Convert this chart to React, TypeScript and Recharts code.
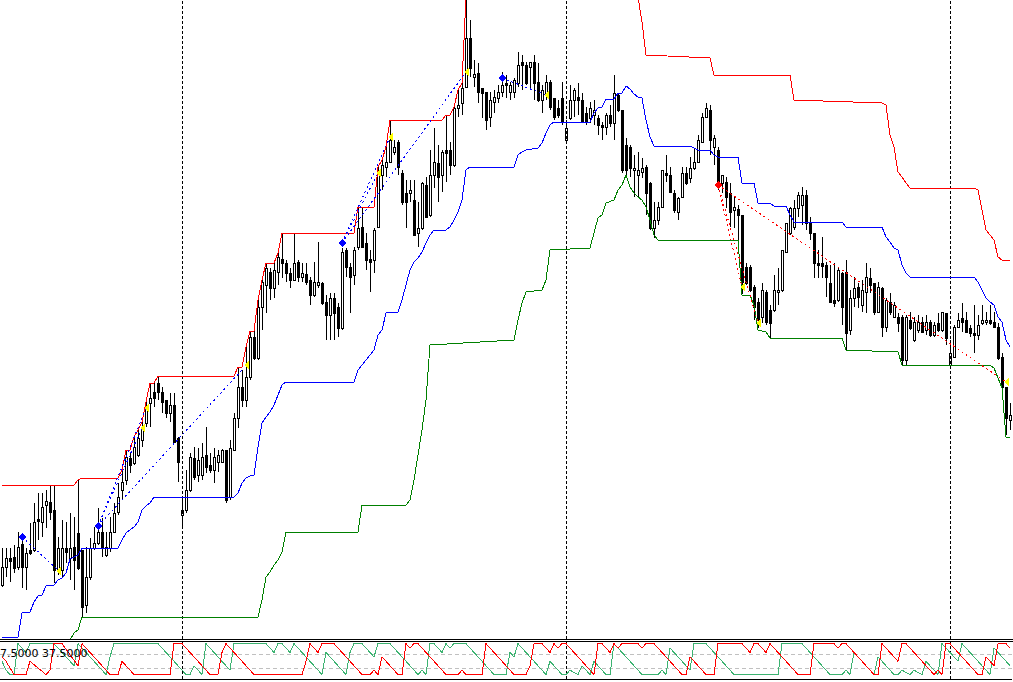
import { ComposedChart, Bar, Line, XAxis, YAxis, ReferenceLine, ReferenceDot } from 'recharts'

// candles, bar index 0..252 (price in points)
const opens = [
  415, 433, 442, 443, 433, 456, 433, 450, 450, 481,
  478, 495, 498, 490, 430, 430, 452, 442, 453, 467,
  450, 395, 423, 452, 457, 468, 445, 452, 468, 488,
  510, 520, 542, 537, 545, 560, 577, 597, 608, 617,
  608, 600, 587, 595, 562, 485, 490, 510, 542, 525,
  525, 545, 535, 530, 538, 538, 550, 503, 550, 582,
  613, 600, 623, 663, 642, 693, 715, 728, 712, 728,
  741, 737, 727, 720, 738, 723, 726, 720, 705, 715,
  717, 698, 685, 702, 693, 672, 750, 733, 725, 753,
  773, 757, 741, 740, 773, 825, 833, 838, 848, 858,
  827, 807, 807, 800, 767, 772, 815, 785, 825, 837,
  825, 850, 850, 835, 892, 897, 913, 962, 923, 927,
  912, 908, 883, 898, 902, 908, 917, 908, 908, 917,
  938, 935, 933, 938, 918, 900, 907, 918, 902, 892,
  902, 860, 882, 900, 903, 900, 887, 882, 885, 882,
  875, 873, 885, 877, 905, 890, 855, 853, 830, 825,
  828, 833, 817, 772, 780, 793, 827, 825, 807, 788,
  803, 827, 822, 832, 838, 858, 883, 890, 853, 850,
  817, 818, 807, 790, 791, 785, 733, 733, 713, 698,
  683, 708, 690, 690, 708, 710, 748, 767, 773, 792,
  795, 805, 778, 767, 737, 737, 735, 717, 700, 700,
  727, 728, 670, 702, 713, 695, 708, 722, 717, 688,
  712, 673, 698, 683, 683, 683, 640, 680, 660, 670,
  678, 670, 678, 665, 677, 670, 687, 635, 643, 673,
  682, 680, 672, 667, 665, 677, 678, 680, 678, 673,
  643, 613, 580,
]
const highs = [
  452, 452, 452, 455, 468, 460, 452, 477, 497, 507,
  507, 510, 515, 515, 463, 480, 478, 487, 483, 520,
  450, 453, 462, 473, 492, 482, 468, 483, 497, 517,
  530, 550, 547, 563, 570, 578, 598, 617, 617, 624,
  613, 600, 607, 607, 563, 503, 530, 547, 553, 552,
  557, 573, 547, 552, 550, 551, 550, 560, 587, 633,
  630, 653, 669, 669, 700, 720, 737, 732, 737, 747,
  767, 740, 732, 767, 740, 737, 737, 723, 738, 758,
  718, 705, 707, 707, 697, 752, 752, 737, 753, 793,
  793, 767, 750, 772, 833, 840, 853, 880, 860, 860,
  830, 820, 820, 820, 798, 818, 823, 850, 872, 855,
  850, 885, 858, 893, 910, 917, 1003, 980, 940, 937,
  912, 908, 908, 910, 915, 928, 925, 918, 922, 948,
  945, 938, 938, 945, 937, 915, 925, 920, 902, 900,
  918, 880, 915, 912, 917, 907, 893, 898, 900, 885,
  878, 887, 895, 925, 907, 890, 862, 855, 845, 848,
  842, 835, 818, 798, 798, 830, 845, 833, 810, 803,
  833, 833, 843, 852, 865, 887, 897, 895, 865, 853,
  825, 823, 817, 803, 795, 785, 737, 735, 715, 702,
  717, 710, 695, 725, 732, 750, 777, 793, 800, 808,
  813, 810, 783, 767, 750, 763, 738, 735, 737, 733,
  728, 740, 710, 723, 717, 720, 737, 732, 717, 718,
  713, 702, 707, 698, 687, 685, 685, 688, 683, 685,
  683, 685, 680, 678, 687, 688, 687, 660, 675, 687,
  697, 688, 675, 695, 685, 695, 688, 695, 688, 677,
  647, 613, 597,
]
const lows = [
  413, 423, 418, 427, 430, 412, 410, 445, 448, 460,
  463, 472, 480, 417, 425, 423, 437, 420, 410, 430,
  383, 387, 420, 450, 455, 443, 443, 448, 467, 485,
  500, 515, 527, 535, 543, 553, 573, 573, 593, 600,
  587, 582, 578, 558, 518, 472, 487, 508, 520, 518,
  520, 527, 527, 517, 528, 537, 497, 500, 550, 572,
  593, 593, 620, 640, 640, 670, 687, 700, 702, 715,
  722, 718, 712, 720, 718, 718, 715, 695, 703, 712,
  695, 660, 660, 660, 663, 670, 723, 687, 715, 750,
  752, 730, 708, 727, 772, 810, 823, 837, 845, 825,
  795, 772, 798, 765, 753, 770, 782, 783, 812, 798,
  808, 818, 825, 833, 883, 885, 912, 923, 913, 897,
  882, 870, 873, 887, 897, 903, 902, 900, 902, 913,
  910, 915, 910, 900, 898, 887, 900, 890, 880, 882,
  875, 857, 880, 883, 885, 877, 875, 877, 875, 865,
  860, 865, 873, 860, 888, 827, 825, 823, 803, 803,
  822, 785, 770, 762, 775, 792, 818, 807, 787, 780,
  802, 815, 817, 830, 837, 857, 882, 845, 835, 810,
  807, 792, 773, 772, 760, 706, 715, 708, 680, 672,
  677, 675, 662, 688, 695, 708, 747, 765, 770, 783,
  775, 770, 760, 722, 722, 722, 703, 697, 693, 698,
  675, 650, 665, 693, 692, 688, 687, 707, 685, 687,
  663, 668, 685, 682, 668, 635, 635, 670, 658, 667,
  667, 665, 663, 663, 668, 668, 655, 635, 643, 672,
  668, 667, 663, 647, 660, 675, 675, 675, 672, 640,
  612, 565, 570,
]
const closes = [
  433, 442, 439, 432, 453, 433, 447, 447, 478, 479,
  493, 499, 488, 430, 452, 452, 448, 452, 440, 432,
  393, 423, 452, 457, 468, 453, 453, 468, 487, 503,
  518, 543, 535, 553, 562, 573, 593, 602, 602, 608,
  598, 587, 595, 558, 538, 490, 510, 543, 523, 540,
  543, 533, 530, 543, 545, 550, 500, 552, 582, 613,
  600, 623, 663, 642, 693, 718, 732, 712, 730, 743,
  737, 727, 720, 737, 723, 727, 718, 705, 718, 718,
  697, 685, 702, 687, 672, 748, 733, 723, 750, 772,
  753, 740, 738, 770, 827, 835, 838, 860, 853, 833,
  798, 798, 810, 765, 772, 817, 783, 825, 838, 823,
  848, 847, 835, 892, 895, 912, 962, 932, 926, 908,
  907, 880, 900, 903, 908, 915, 915, 915, 920, 935,
  935, 917, 938, 917, 900, 910, 918, 893, 883, 885,
  878, 872, 900, 910, 900, 878, 878, 892, 890, 875,
  873, 885, 877, 907, 890, 830, 830, 832, 832, 830,
  832, 807, 772, 780, 793, 830, 825, 808, 790, 802,
  827, 817, 832, 838, 860, 883, 892, 860, 862, 817,
  825, 803, 788, 793, 785, 718, 717, 710, 693, 680,
  710, 678, 677, 710, 710, 750, 777, 792, 792, 805,
  805, 777, 767, 737, 735, 734, 723, 698, 697, 730,
  693, 667, 702, 712, 703, 710, 723, 715, 688, 713,
  673, 700, 688, 695, 677, 640, 683, 672, 678, 678,
  668, 678, 665, 675, 670, 688, 662, 647, 673, 680,
  678, 668, 667, 665, 675, 680, 680, 677, 673, 642,
  613, 582, 585,
]

// channel lines, [bar, price] corners
const upperBand = [
  [0, 515], [1, 515], [18, 515], [19, 520], [20, 522], [29, 522], [30, 530], [31, 550], [32, 550], [33, 563], [34, 570],
  [35, 578], [36, 598], [37, 617], [38, 617], [39, 624], [58, 624], [59, 633], [60, 633], [61, 653], [62, 669],
  [63, 669], [64, 700], [65, 720], [66, 737], [68, 737], [69, 747], [70, 767], [88, 767], [89, 793], [93, 793],
  [94, 833], [95, 840], [96, 853], [97, 880], [110, 880], [111, 885], [112, 885], [113, 893], [114, 910], [115, 917],
  [116, 1003], [159, 1003], [160, 978], [161, 945], [177, 942], [178, 925], [197, 925], [198, 900], [220, 897], [221, 895],
  [222, 865], [223, 853], [224, 828], [225, 823], [226, 817], [227, 812], [243, 812], [244, 810], [245, 790], [246, 770],
  [247, 765], [248, 760], [249, 743], [250, 740], [251, 740], [252, 740],
]
const lowerBand = [
  [0, 355], [1, 355], [16, 355], [17, 360], [18, 367], [19, 370], [20, 383], [64, 383], [65, 400], [66, 423], [67, 428],
  [68, 435], [69, 440], [70, 448], [71, 468], [89, 468], [90, 495], [101, 495], [102, 500], [103, 520], [104, 545],
  [105, 570], [106, 600], [107, 655], [128, 660], [129, 680], [130, 697], [131, 708], [135, 710], [136, 720], [137, 750],
  [147, 752], [148, 767], [149, 782], [150, 785], [151, 797], [153, 800], [154, 810], [155, 815], [156, 825], [157, 813],
  [158, 807], [159, 803], [160, 800], [161, 793], [162, 780], [163, 765], [164, 760], [184, 760], [185, 705], [187, 705],
  [188, 695], [189, 670], [191, 668], [192, 662], [210, 662], [211, 650], [224, 648], [225, 635], [247, 635], [248, 632],
  [249, 622], [250, 612], [251, 563], [252, 563],
]
const midBand = [
  [0, 363], [1, 363], [4, 363], [5, 387], [7, 388], [8, 398], [9, 404], [10, 405], [11, 414], [13, 415], [14, 420],
  [15, 422], [16, 427], [17, 441], [19, 445], [20, 452], [29, 452], [30, 460], [31, 467], [33, 473], [34, 478],
  [35, 490], [36, 494], [37, 497], [38, 503], [58, 503], [59, 507], [60, 517], [61, 522], [62, 524], [63, 525],
  [64, 553], [65, 577], [66, 583], [67, 588], [68, 595], [69, 605], [70, 615], [71, 618], [88, 618], [89, 630],
  [90, 635], [91, 640], [92, 645], [93, 650], [94, 665], [95, 670], [96, 687], [99, 688], [100, 700], [101, 715],
  [102, 730], [103, 738], [104, 742], [105, 748], [106, 757], [107, 765], [108, 770], [111, 770], [112, 773], [113, 780],
  [114, 788], [115, 800], [116, 830], [117, 833], [128, 833], [129, 845], [130, 848], [131, 850], [134, 852], [135, 857],
  [136, 867], [137, 875], [138, 878], [147, 878], [148, 887], [149, 892], [150, 893], [151, 901], [153, 901], [154, 907],
  [155, 907], [156, 914], [157, 911], [158, 906], [159, 903], [160, 902], [161, 880], [162, 863], [163, 854], [172, 854],
  [174, 850], [177, 850], [178, 845], [179, 843], [184, 843], [185, 817], [188, 817], [189, 797], [192, 797], [193, 794],
  [196, 794], [197, 785], [198, 778], [210, 778], [211, 773], [220, 773], [221, 763], [222, 758], [223, 752], [224, 750],
  [225, 735], [226, 727], [227, 723], [243, 723], [244, 718], [245, 710], [246, 702], [247, 698], [248, 695], [249, 683],
  [250, 678], [251, 660], [252, 653],
]

// zigzag projections
const blueZig = [
  [[5, 463], [14, 430]], [[24, 474], [35, 572]], [[24, 474], [36, 592]], [[24, 474], [60, 630]],
  [[85, 757], [94, 827]], [[85, 757], [97, 863]], [[85, 757], [116, 928]], [[125, 922], [136, 905]],
]
const redZig = [[[179, 815], [185, 713]], [[179, 815], [189, 677]], [[179, 815], [251, 618]]]
const blueMarks = [[5, 463], [24, 474], [85, 757], [125, 922]]
const redMarks = [[179, 815]]
const yellowMarks = [[14, 429], [35, 572], [36, 592], [61, 635], [94, 827], [97, 863], [116, 928], [136, 905], [185, 713], [189, 677], [251, 618]]

// day separators and time ticks (bar index)
const separators = [45, 141, 237]
const timeTicks = [7, 31, 55, 79, 103, 127, 151, 175, 199, 223, 247]

// Aroon(8) sub window, [bar, value] corners
const aroonUp = [
  [0, 50], [1, 25], [2, 12.5], [3, 12.5], [4, 100], [6, 75], [7, 100], [13, 100], [18, 37.5], [19, 100], [26, 12.5],
  [27, 62.5], [28, 100], [39, 100], [46, 12.5], [47, 12.5], [48, 37.5], [50, 12.5], [51, 100], [57, 25], [58, 100],
  [66, 100], [68, 75], [69, 100], [70, 100], [72, 75], [73, 100], [80, 12.5], [81, 75], [84, 37.5], [85, 25],
  [86, 12.5], [87, 75], [88, 100], [90, 100], [93, 62.5], [94, 100], [97, 100], [104, 12.5], [105, 25], [106, 12.5],
  [107, 100], [108, 100], [110, 75], [111, 100], [112, 87.5], [113, 100], [116, 100], [123, 12.5], [126, 12.5], [127, 75],
  [128, 62.5], [129, 100], [136, 12.5], [137, 50], [140, 12.5], [141, 12.5], [142, 25], [144, 12.5], [145, 37.5], [147, 12.5],
  [148, 50], [151, 12.5], [152, 12.5], [153, 100], [160, 12.5], [164, 12.5], [165, 25], [166, 12.5], [167, 87.5], [172, 25],
  [173, 100], [176, 100], [183, 12.5], [194, 12.5], [195, 100], [200, 100], [207, 12.5], [210, 12.5], [211, 25], [212, 12.5],
  [213, 75], [216, 37.5], [218, 12.5], [219, 62.5], [223, 12.5], [224, 12.5], [225, 25], [227, 12.5], [228, 25], [230, 12.5],
  [231, 50], [234, 12.5], [235, 100], [238, 62.5], [239, 50], [240, 100], [247, 12.5], [248, 87.5], [252, 37.5],
]
const aroonDown = [
  [0, 62.5], [1, 50], [3, 12.5], [6, 12.5], [7, 50], [11, 12.5], [12, 25], [13, 100], [15, 100], [19, 37.5], [20, 100],
  [27, 12.5], [29, 12.5], [30, 50], [33, 12.5], [42, 12.5], [43, 100], [45, 100], [52, 12.5], [54, 12.5], [55, 75],
  [56, 100], [63, 12.5], [75, 12.5], [76, 50], [77, 100], [78, 87.5], [79, 75], [80, 100], [83, 100], [90, 12.5],
  [92, 12.5], [93, 25], [94, 12.5], [95, 62.5], [99, 12.5], [100, 12.5], [101, 100], [102, 87.5], [103, 100], [104, 100],
  [111, 12.5], [114, 12.5], [115, 25], [116, 12.5], [120, 12.5], [121, 100], [128, 12.5], [131, 12.5], [132, 37.5], [133, 100],
  [135, 100], [137, 75], [138, 100], [139, 87.5], [140, 100], [141, 100], [148, 12.5], [149, 100], [150, 100], [152, 75],
  [153, 100], [154, 87.5], [155, 100], [159, 100], [160, 87.5], [161, 100], [163, 100], [170, 12.5], [171, 12.5], [172, 62.5],
  [176, 12.5], [178, 12.5], [179, 100], [185, 100], [187, 75], [188, 100], [189, 100], [191, 75], [192, 100], [199, 12.5],
  [202, 12.5], [203, 100], [208, 100], [209, 87.5], [210, 100], [211, 100], [218, 12.5], [219, 12.5], [220, 100], [224, 50],
  [225, 100], [226, 100], [233, 12.5], [234, 25], [235, 12.5], [236, 100], [237, 100], [244, 12.5], [245, 12.5], [246, 62.5],
  [248, 37.5], [249, 100], [251, 100], [252, 87.5],
]

const toMap = (pts: number[][]) => new Map(pts.map(([i, v]) => [i, v]))
const upMap = toMap(upperBand)
const loMap = toMap(lowerBand)
const midMap = toMap(midBand)
const arUpMap = toMap(aroonUp)
const arDnMap = toMap(aroonDown)

const mainRows = opens.map((o, i) => ({
  i,
  o,
  h: highs[i],
  l: lows[i],
  c: closes[i],
  range: [lows[i], highs[i]],
  upper: upMap.get(i),
  lower: loMap.get(i),
  mid: midMap.get(i),
}))

const subRows = opens.map((_, i) => ({ i, up: arUpMap.get(i), down: arDnMap.get(i) }))

function Candle(props: any) {
  const { x, y, width, height, payload } = props
  if (!payload) return null
  const { o, h, l, c } = payload
  const top = Math.min(y, y + height)
  const span = Math.abs(height)
  const k = h === l ? 0 : span / (h - l)
  const py = (v: number) => top + (h - v) * k
  const cx = Math.round(x + width / 2)
  const bTop = Math.round(py(Math.max(o, c)))
  const bBot = Math.round(py(Math.min(o, c)))
  return (
    <g>
      <line x1={cx + 0.5} x2={cx + 0.5} y1={Math.round(top)} y2={Math.round(top + span)} stroke="#000" />
      <rect x={cx - 0.5} y={bTop + 0.5} width={2} height={Math.max(bBot - bTop, 1)} fill={c > o ? '#fff' : '#000'} stroke="#000" />
    </g>
  )
}

const diamond = (color: string) => (p: any) => (
  <polygon points={`${p.cx},${p.cy - 4} ${p.cx + 4},${p.cy} ${p.cx},${p.cy + 4} ${p.cx - 4},${p.cy}`} fill={color} />
)
const arrow = (p: any) => (
  <polygon points={`${p.cx - 2},${p.cy} ${p.cx + 3},${p.cy - 4} ${p.cx + 3},${p.cy + 4}`} fill="#ffff00" />
)

export default function App() {
  return (
    <div style={{ position: 'fixed', left: 0, top: 0, width: 1013, height: 682, background: '#fff', overflow: 'hidden' }}>
      <style>{'.recharts-surface{shape-rendering:crispEdges}'}</style>
      <div style={{ position: 'absolute', left: 0, top: 0 }}>
        <ComposedChart width={1012} height={639} data={mainRows} margin={{ top: 0, right: 0, bottom: 0, left: 0 }}>
          <XAxis dataKey="i" type="category" hide />
          <YAxis type="number" domain={[361, 1000]} allowDataOverflow hide />
          {separators.map(s => (
            <ReferenceLine key={s} x={s} stroke="#000" strokeDasharray="3 2" />
          ))}
          <Bar dataKey="range" shape={(p: any) => <Candle {...p} />} isAnimationActive={false} />
          <Line dataKey="upper" stroke="#ff0000" strokeWidth={1} dot={false} activeDot={false} connectNulls type="linear" isAnimationActive={false} />
          <Line dataKey="lower" stroke="#008000" strokeWidth={1} dot={false} activeDot={false} connectNulls type="linear" isAnimationActive={false} />
          <Line dataKey="mid" stroke="#0000ff" strokeWidth={1} dot={false} activeDot={false} connectNulls type="linear" isAnimationActive={false} />
          {blueZig.map((s, k) => (
            <ReferenceLine key={'b' + k} segment={[{ x: s[0][0], y: s[0][1] }, { x: s[1][0], y: s[1][1] }]} stroke="#0000ff" strokeDasharray="2 3" />
          ))}
          {redZig.map((s, k) => (
            <ReferenceLine key={'r' + k} segment={[{ x: s[0][0], y: s[0][1] }, { x: s[1][0], y: s[1][1] }]} stroke="#ff0000" strokeDasharray="2 3" />
          ))}
          {yellowMarks.map(([i, v], k) => (
            <ReferenceDot key={'y' + k} x={i} y={v} r={4} shape={arrow} />
          ))}
          {blueMarks.map(([i, v], k) => (
            <ReferenceDot key={'bd' + k} x={i} y={v} r={4} shape={diamond('#0000ff')} />
          ))}
          {redMarks.map(([i, v], k) => (
            <ReferenceDot key={'rd' + k} x={i} y={v} r={4} shape={diamond('#ff0000')} />
          ))}
        </ComposedChart>
      </div>
      <div style={{ position: 'absolute', left: 0, top: 642 }}>
        <ComposedChart width={1012} height={41} data={subRows} margin={{ top: 0, right: 0, bottom: 0, left: 0 }}>
          <XAxis
            dataKey="i"
            type="number"
            domain={[-0.5, 252.5]}
            allowDataOverflow
            ticks={timeTicks}
            interval={0}
            tick={false}
            tickSize={3}
            tickLine={{ stroke: '#000' }}
            axisLine={{ stroke: '#000' }}
            height={4}
          />
          <YAxis type="number" domain={[0, 104.5]} allowDataOverflow hide />
          <ReferenceLine y={70} stroke="#c0c0c0" strokeDasharray="4 3" />
          <ReferenceLine y={30} stroke="#c0c0c0" strokeDasharray="4 3" />
          {separators.map(s => (
            <ReferenceLine key={s} x={s} stroke="#000" strokeDasharray="3 2" />
          ))}
          <Line dataKey="up" stroke="#3cb371" strokeWidth={1} dot={false} activeDot={false} connectNulls type="linear" isAnimationActive={false} />
          <Line dataKey="down" stroke="#ff0000" strokeWidth={1} dot={false} activeDot={false} connectNulls type="linear" isAnimationActive={false} />
        </ComposedChart>
      </div>
      <svg width={1013} height={682} style={{ position: 'absolute', left: 0, top: 0, pointerEvents: 'none' }}>
        <rect x={0} y={639} width={1013} height={1} fill="#000" />
        <rect x={0} y={641} width={1013} height={1} fill="#000" />
        <text x={0} y={657} fontFamily="DejaVu Sans" fontSize={11} fill="#000">7.5000 37.5000</text>
      </svg>
    </div>
  )
}
